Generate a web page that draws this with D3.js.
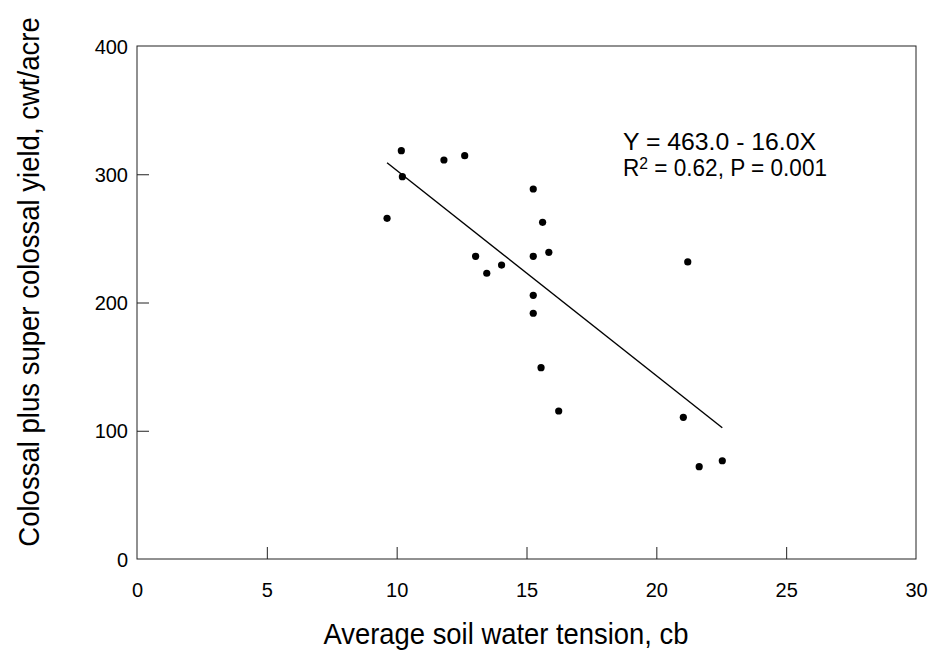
<!DOCTYPE html>
<html><head><meta charset="utf-8">
<script src="https://cdn.jsdelivr.net/npm/d3@7"></script>
<style>body{margin:0;background:#fff}svg{display:block}text{font-family:"Liberation Sans",Arial,sans-serif;fill:#000}</style>
</head><body><svg id="c" width="929" height="650"></svg>
<script>
const tension = [10.18, 11.82, 12.62, 10.22, 9.63, 15.26, 15.62, 13.04, 13.47, 14.04, 15.26, 15.86, 15.26, 15.26, 15.56, 16.24, 21.21, 21.04, 21.65, 22.54];
const yieldVals = [318.4, 311.1, 314.5, 298.1, 265.6, 288.5, 262.5, 236.0, 222.8, 229.2, 236.0, 239.1, 205.6, 191.6, 149.2, 115.4, 231.6, 110.5, 72.0, 76.6];
const xTicks = [0, 5, 10, 15, 20, 25, 30];
const yTicks = [0, 100, 200, 300, 400];
const intercept = 463.0, slope = -16.0;
const eqLine1 = "Y = 463.0 - 16.0X";

const svg = d3.select("#c");
const L = 137, R = 916, T = 46, B = 559;
const x = d3.scaleLinear().domain([0, 30]).range([L, R]);
const y = d3.scaleLinear().domain([0, 400]).range([B, T]);

svg.append("rect").attr("x", L).attr("y", T).attr("width", R - L).attr("height", B - T)
  .attr("fill", "none").attr("stroke", "#222").attr("stroke-width", 1);

const gx = svg.append("g").attr("transform", `translate(0,${B})`)
  .call(d3.axisBottom(x).tickValues(xTicks).tickSizeInner(-12).tickSizeOuter(0));
const gy = svg.append("g").attr("transform", `translate(${L},0)`)
  .call(d3.axisLeft(y).tickValues(yTicks).tickSizeInner(-12).tickSizeOuter(0));
[gx, gy].forEach(g => {
  g.select(".domain").remove();
  g.selectAll(".tick line").attr("stroke", "#222");
  g.selectAll(".tick text").style("font-size", "20px").attr("font-family", null);
});
gx.selectAll(".tick text").attr("dy", null).attr("y", 38);
gy.selectAll(".tick text").attr("dy", "0.35em").attr("x", -9);
gx.selectAll(".tick").filter(d => d === 0 || d === 30).select("line").remove();
gy.selectAll(".tick").filter(d => d === 0 || d === 400).select("line").remove();

const xmin = d3.min(tension), xmax = d3.max(tension);
svg.append("line")
  .attr("x1", x(xmin)).attr("y1", y(intercept + slope * xmin))
  .attr("x2", x(xmax)).attr("y2", y(intercept + slope * xmax))
  .attr("stroke", "#000").attr("stroke-width", 1.4);

svg.selectAll("circle.pt").data(tension.map((t, i) => [t, yieldVals[i]])).enter()
  .append("circle").attr("class", "pt")
  .attr("cx", d => x(d[0])).attr("cy", d => y(d[1])).attr("r", 3.6).attr("fill", "#000");

svg.append("text").attr("x", 623).attr("y", 150)
  .attr("textLength", 193).attr("lengthAdjust", "spacingAndGlyphs")
  .style("font-size", "23px").text(eqLine1);
const t2 = svg.append("text").attr("x", 623).attr("y", 176)
  .attr("textLength", 204).attr("lengthAdjust", "spacingAndGlyphs").style("font-size", "23px");
t2.append("tspan").text("R");
t2.append("tspan").attr("dy", -7).style("font-size", "16px").text("2");
t2.append("tspan").attr("dy", 7).text(" = 0.62, P = 0.001");

svg.append("text").attr("transform", "translate(506,644) scale(0.945,1)").attr("text-anchor", "middle")
  .style("font-size", "29px").text("Average soil water tension, cb");
svg.append("text").attr("transform", "translate(39,282) rotate(-90) scale(0.95,1)").attr("text-anchor", "middle")
  .style("font-size", "29px").text("Colossal plus super colossal yield, cwt/acre");
</script></body></html>
